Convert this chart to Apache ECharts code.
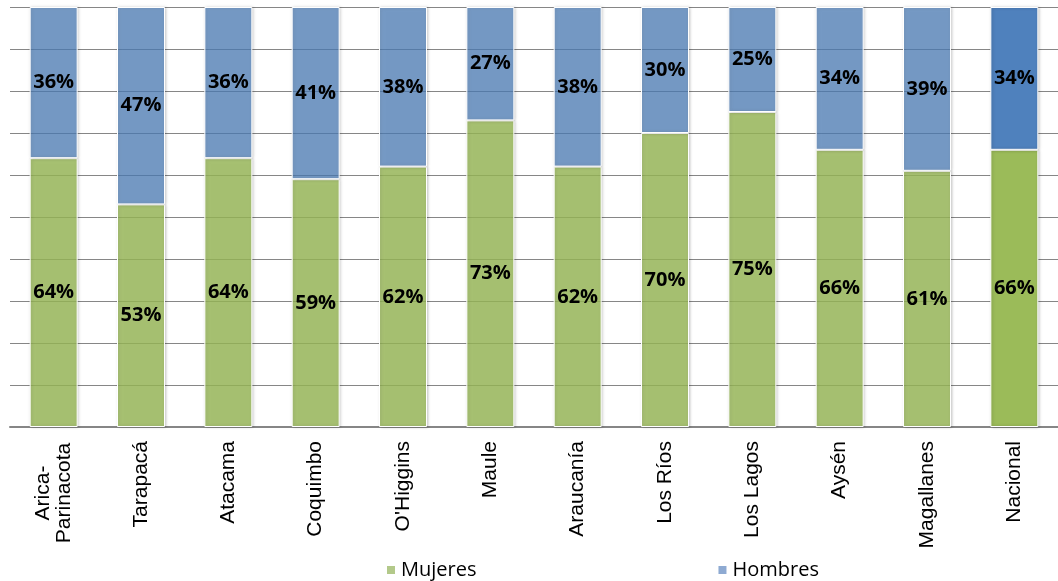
<!DOCTYPE html>
<html><head><meta charset="utf-8">
<script src="https://cdn.jsdelivr.net/npm/echarts@6/dist/echarts.min.js"></script>
<style>html,body{margin:0;padding:0;background:#fff}#c{width:1058px;height:581px}</style>
</head><body><div id="c"></div>
<script>
const categories = ['Arica-\nParinacota','Tarapacá','Atacama','Coquimbo',"O'Higgins",'Maule','Araucanía','Los Ríos','Los Lagos','Aysén','Magallanes','Nacional'];
const mujeres = [64,53,64,59,62,73,62,70,75,66,61,66];
const hombres = [36,47,36,41,38,27,38,30,25,34,39,34];

const chart = echarts.init(document.getElementById('c'));
const lastIdx = categories.length - 1;
function mk(vals, color, light) {
  return vals.map((v, i) => ({
    value: v,
    itemStyle: { color: i === lastIdx ? color : light }
  }));
}
const labelStyle = {
  show: true, position: 'inside', formatter: '{c}%',
  fontFamily: 'Open Sans', fontWeight: 'bold', fontSize: 20, color: '#000'
};
const common = {
  type: 'bar', stack: 'total', barWidth: 48,
  itemStyle: { borderColor: '#fff', borderWidth: 1, shadowBlur: 3, shadowColor: 'rgba(0,0,0,0.25)', shadowOffsetX: 1, shadowOffsetY: 0 },
  label: labelStyle
};
const lblFont = { fontFamily: 'Liberation Sans', fontSize: 21, color: '#000' };
chart.setOption({
  animation: false,
  grid: { left: 10, right: 0, top: 7, bottom: 154, containLabel: false },
  legend: {
    left: 380, top: 555, itemWidth: 10, itemHeight: 10, itemGap: 240,
    textStyle: { fontFamily: 'Open Sans', fontSize: 20, color: '#000' },
    icon: 'rect',
    data: [
      { name: 'Mujeres', itemStyle: { color: '#b3c98a' } },
      { name: 'Hombres', itemStyle: { color: '#8eaad2' } }
    ]
  },
  xAxis: {
    type: 'category', data: categories,
    axisLine: { lineStyle: { color: '#868686', width: 2 } },
    axisTick: { show: false },
    axisLabel: Object.assign({
      rotate: 90, margin: 14, interval: 0,
      formatter: function (v) {
        if (v.indexOf('\n') >= 0) {
          return v.split('\n').map(s => '{c|' + s + '}').join('\n');
        }
        return v;
      },
      rich: { c: Object.assign({ width: 104, align: 'center' }, lblFont) }
    }, lblFont)
  },
  yAxis: {
    type: 'value', min: 0, max: 100, interval: 10,
    axisLine: { show: false }, axisTick: { show: false }, axisLabel: { show: false },
    splitLine: { lineStyle: { color: '#868686', width: 1 } }
  },
  series: [
    Object.assign({ name: 'Mujeres', data: mk(mujeres, '#9bbb59', 'rgba(155,187,89,0.8)') }, common),
    Object.assign({ name: 'Hombres', data: mk(hombres, '#4f81bd', 'rgba(79,129,189,0.72)') }, common)
  ]
});
</script></body></html>
